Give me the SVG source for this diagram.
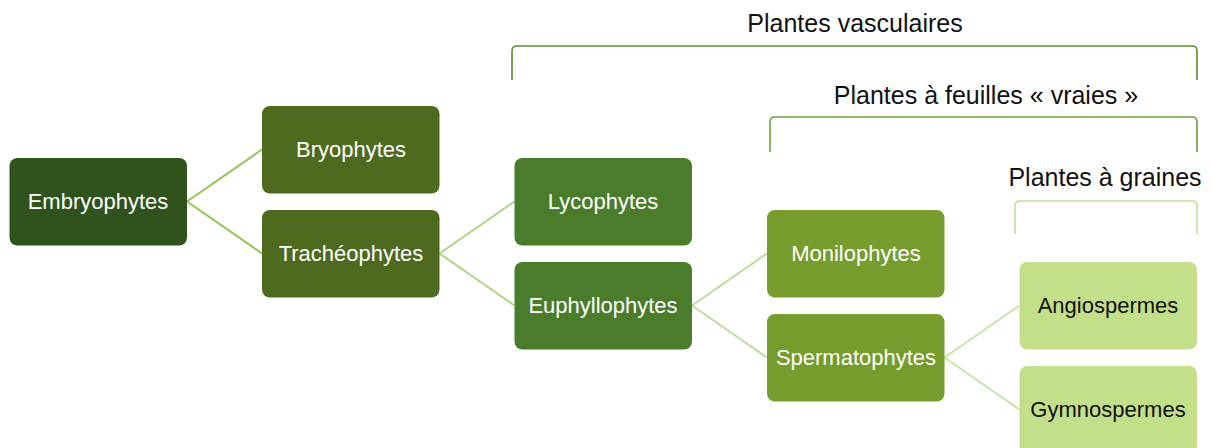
<svg xmlns="http://www.w3.org/2000/svg" width="1212" height="448" viewBox="0 0 1212 448">
<style>
.n rect{stroke:none}
.n text{font-family:"Liberation Sans",Arial,sans-serif;font-size:22px;text-anchor:middle;fill:#ffffff}
.n.light text{fill:#111111}
.h{font-family:"Liberation Sans",Arial,sans-serif;font-size:25px;text-anchor:middle;fill:#111111}
.c line{stroke-width:2;fill:none}
.b{fill:none;stroke-width:1.6}
</style>
<rect width="1212" height="448" fill="#ffffff"/>
<g id="brackets">
<path class="b" stroke="#5b8a30" d="M512,80 V51 Q512,46 517,46 H1192 Q1197,46 1197,51 V80"/>
<path class="b" stroke="#6e9e35" d="M770,152 V122 Q770,117 775,117 H1192 Q1197,117 1197,122 V152"/>
<path class="b" stroke="#c2e094" d="M1015,234 V206 Q1015,201 1020,201 H1192 Q1197,201 1197,206 V234"/>
</g>
<g id="labels">
<text class="h" x="855" y="32">Plantes vasculaires</text>
<text class="h" x="986" y="104">Plantes à feuilles « vraies »</text>
<text class="h" x="1105" y="186">Plantes à graines</text>
</g>
<g id="connectors" class="c">
<line stroke="#92c453" x1="187" y1="201.5" x2="262" y2="149.5"/>
<line stroke="#92c453" x1="187" y1="201.5" x2="262" y2="253.5"/>
<line stroke="#a9d47e" x1="439.5" y1="253.5" x2="514.5" y2="201.5"/>
<line stroke="#a9d47e" x1="439.5" y1="253.5" x2="514.5" y2="305.5"/>
<line stroke="#bddc9a" x1="692" y1="305.5" x2="767" y2="253.5"/>
<line stroke="#bddc9a" x1="692" y1="305.5" x2="767" y2="357.5"/>
<line stroke="#c9e4aa" x1="944.5" y1="357.5" x2="1019.5" y2="305.5"/>
<line stroke="#c9e4aa" x1="944.5" y1="357.5" x2="1019.5" y2="409.5"/>
</g>
<g id="embryophytes" class="n"><rect x="9.5" y="158" width="177.5" height="87.5" rx="8" fill="#30521c"/><text x="98" y="209">Embryophytes</text></g>
<g id="bryophytes" class="n"><rect x="262" y="106" width="177.5" height="87.5" rx="8" fill="#4e6a1e"/><text x="351" y="157">Bryophytes</text></g>
<g id="tracheophytes" class="n"><rect x="262" y="210" width="177.5" height="87.5" rx="8" fill="#4e6a1e"/><text x="351" y="261">Trachéophytes</text></g>
<g id="lycophytes" class="n"><rect x="514.5" y="158" width="177.5" height="87.5" rx="8" fill="#4a7c2c"/><text x="603" y="209">Lycophytes</text></g>
<g id="euphyllophytes" class="n"><rect x="514.5" y="262" width="177.5" height="87.5" rx="8" fill="#4a7c2c"/><text x="603" y="313">Euphyllophytes</text></g>
<g id="monilophytes" class="n"><rect x="767" y="210" width="177.5" height="87.5" rx="8" fill="#759c2c"/><text x="856" y="261">Monilophytes</text></g>
<g id="spermatophytes" class="n"><rect x="767" y="314" width="177.5" height="87.5" rx="8" fill="#759c2c"/><text x="856" y="365">Spermatophytes</text></g>
<g id="angiospermes" class="n light"><rect x="1019.5" y="262" width="177.5" height="87.5" rx="8" fill="#c3df89"/><text x="1108" y="313">Angiospermes</text></g>
<g id="gymnospermes" class="n light"><rect x="1019.5" y="366" width="177.5" height="87.5" rx="8" fill="#c3df89"/><text x="1108" y="417">Gymnospermes</text></g>
</svg>
